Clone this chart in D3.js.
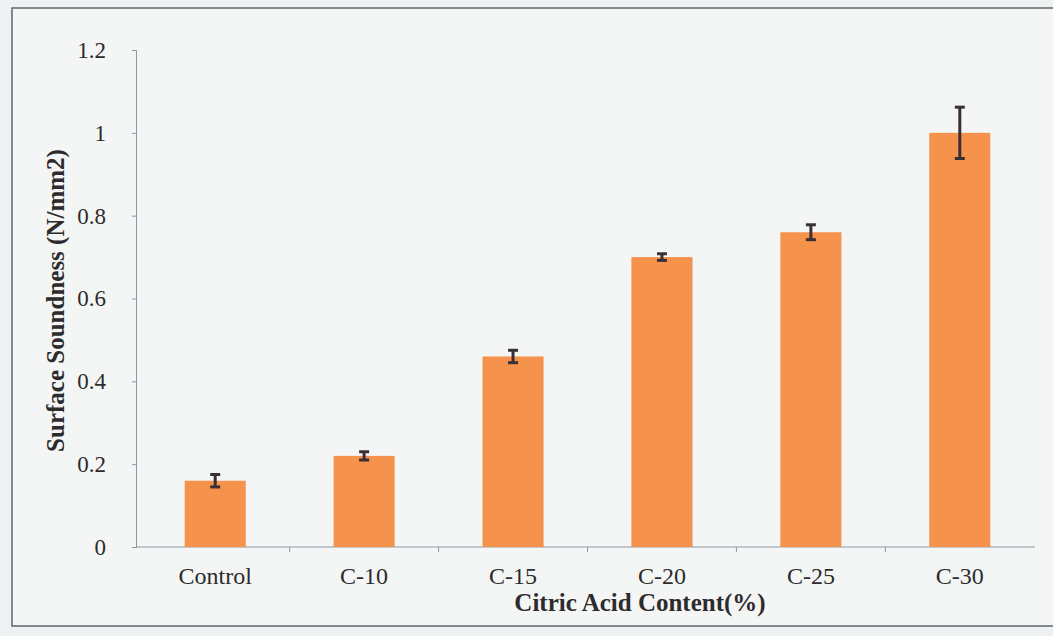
<!DOCTYPE html>
<html>
<head>
<meta charset="utf-8">
<script src="https://cdn.jsdelivr.net/npm/d3@7"></script>
<style>
  body { margin: 0; background: #eef1f1; }
  svg { display: block; }
  text { font-family: "Liberation Serif", "Times New Roman", serif; fill: #2e2b2c; }
</style>
</head>
<body>
<script>
var categories = ["Control", "C-10", "C-15", "C-20", "C-25", "C-30"];
var values = [0.16, 0.22, 0.46, 0.70, 0.76, 1.00];
var errors = [0.015, 0.01, 0.015, 0.008, 0.018, 0.062];
var yTicks = [0, 0.2, 0.4, 0.6, 0.8, 1, 1.2];

var width = 1053, height = 636;
var margin = {top: 50, right: 18, bottom: 89, left: 136};

var svg = d3.select("body").append("svg")
    .attr("width", width)
    .attr("height", height);

// paper frame
svg.append("rect")
    .attr("x", 12).attr("y", 8)
    .attr("width", width + 20).attr("height", 618)
    .attr("fill", "#f4f6f6")
    .attr("stroke", "#5e6670")
    .attr("stroke-width", 1.5);

var x = d3.scaleBand()
    .domain(categories)
    .range([margin.left + 4, width - margin.right])
    .paddingInner(0.59)
    .paddingOuter(0.3);

var y = d3.scaleLinear()
    .domain([0, 1.2])
    .range([height - margin.bottom, margin.top]);

// y axis
var yAxis = svg.append("g")
    .attr("transform", "translate(" + margin.left + ",0)")
    .call(d3.axisLeft(y).tickValues(yTicks).tickSize(4).tickPadding(26)
      .tickFormat(function(d) { return d3.format("")(d); }));
yAxis.selectAll("path, line").attr("stroke", "#8b97a3");
yAxis.selectAll("text").style("font-size", "23px").attr("fill", "#3a3738");

// x axis, ticks between categories
var step = x.step();
var xAxisG = svg.append("g")
    .attr("transform", "translate(0," + y(0) + ")");
xAxisG.append("line")
    .attr("x1", margin.left).attr("x2", width - margin.right)
    .attr("stroke", "#8b97a3").attr("stroke-width", 1.2);
xAxisG.selectAll(".sep")
    .data(categories.slice(1))
    .enter().append("line")
    .attr("class", "sep")
    .attr("x1", function(d) { return x(d) - (step - x.bandwidth()) / 2; })
    .attr("x2", function(d) { return x(d) - (step - x.bandwidth()) / 2; })
    .attr("y1", 0).attr("y2", 5)
    .attr("stroke", "#8b97a3");
xAxisG.selectAll(".lab")
    .data(categories)
    .enter().append("text")
    .attr("class", "lab")
    .attr("x", function(d) { return x(d) + x.bandwidth() / 2; })
    .attr("y", 37)
    .attr("text-anchor", "middle")
    .style("font-size", "24px")
    .text(function(d) { return d; });

// bars
svg.selectAll(".bar")
    .data(values)
    .enter().append("rect")
    .attr("class", "bar")
    .attr("x", function(d, i) { return x(categories[i]); })
    .attr("y", function(d) { return y(d); })
    .attr("width", x.bandwidth())
    .attr("height", function(d) { return y(0) - y(d); })
    .attr("fill", "#f5924c");

// error bars
var eb = svg.selectAll(".err")
    .data(values)
    .enter().append("g")
    .attr("class", "err")
    .attr("stroke", "#3b2f36")
    .attr("stroke-width", 3);
eb.append("line")
    .attr("x1", function(d, i) { return x(categories[i]) + x.bandwidth() / 2; })
    .attr("x2", function(d, i) { return x(categories[i]) + x.bandwidth() / 2; })
    .attr("y1", function(d, i) { return y(d - errors[i]); })
    .attr("y2", function(d, i) { return y(d + errors[i]); });
[-1, 1].forEach(function(s) {
  eb.append("line")
    .attr("x1", function(d, i) { return x(categories[i]) + x.bandwidth() / 2 - 5; })
    .attr("x2", function(d, i) { return x(categories[i]) + x.bandwidth() / 2 + 5; })
    .attr("y1", function(d, i) { return y(d + s * errors[i]); })
    .attr("y2", function(d, i) { return y(d + s * errors[i]); });
});

// axis titles
svg.append("text")
    .attr("transform", "translate(64," + (y(0.6) + 2) + ") rotate(-90)")
    .attr("text-anchor", "middle")
    .style("font-size", "25px")
    .style("font-weight", "bold")
    .text("Surface Soundness (N/mm2)");

svg.append("text")
    .attr("x", 640)
    .attr("y", 611)
    .attr("text-anchor", "middle")
    .style("font-size", "25px")
    .style("font-weight", "bold")
    .text("Citric Acid Content(%)");
</script>
</body>
</html>
